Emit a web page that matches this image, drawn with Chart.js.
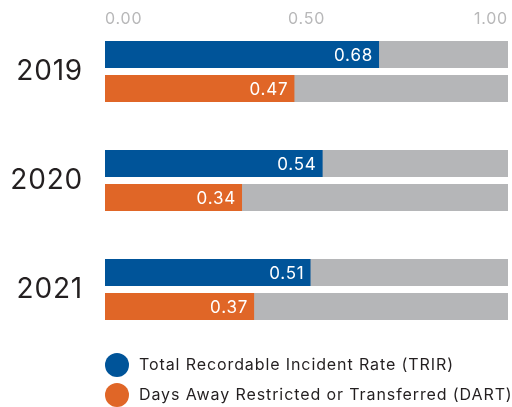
<!DOCTYPE html>
<html>
<head>
<meta charset="utf-8">
<script src="https://cdn.jsdelivr.net/npm/chart.js@4.4.1/dist/chart.umd.min.js"></script>
<style>
    html, body { margin: 0; padding: 0; background: #fff; }
    #wrap { position: relative; width: 512px; height: 407px; }
</style>
</head>
<body>
<div id="wrap"><canvas id="safetyChart"></canvas></div>
<script>
// DATA
const years = ['2019', '2020', '2021']
const trirValues = [0.68, 0.54, 0.51]
const dartValues = [0.47, 0.34, 0.37]
const axisTicks = [0, 0.5, 1]
const axisMax = 1
const seriesNames = [
    'Total Recordable Incident Rate (TRIR)',
    'Days Away Restricted or Transferred (DART)'
]

const BLUE = '#005499'
const ORANGE = '#e06627'
const TRACK = '#b5b6b8'
const FONT = 'Inter, "Open Sans", sans-serif'

/* ==============================
       SPASI HURUF (TRACKING)
   ============================== */
const tracking = {
    id: 'tracking',
    beforeDraw(chart) {
        chart.ctx.letterSpacing = '0.8px'
    }
}

/* ==============================
       LABEL NILAI DI UJUNG BAR
   ============================== */
const valueLabels = {
    id: 'valueLabels',
    afterDatasetsDraw(chart) {
        const ctx = chart.ctx
        ctx.save()
        ctx.font = '17px ' + FONT
        ctx.letterSpacing = '0.8px'
        ctx.fillStyle = '#ffffff'
        ctx.textAlign = 'right'
        ctx.textBaseline = 'middle'
        chart.data.datasets.forEach((ds, i) => {
            if (!ds.showValue) return
            chart.getDatasetMeta(i).data.forEach((bar, j) => {
                ctx.fillText(ds.data[j].toFixed(2), bar.x - 6, bar.y + 1)
            })
        })
        ctx.restore()
    }
}

/* ==============================
       LEGEND (BULAT, DI BAWAH)
   ============================== */
const dotLegend = {
    id: 'dotLegend',
    afterDraw(chart) {
        const ctx = chart.ctx
        const area = chart.chartArea
        const items = chart.data.datasets.filter((ds) => ds.showValue)
        ctx.save()
        ctx.font = '16px ' + FONT
        ctx.letterSpacing = '0.9px'
        ctx.textBaseline = 'middle'
        items.forEach((ds, i) => {
            const y = area.bottom + 75.5 + i * 30
            ctx.fillStyle = ds.backgroundColor
            ctx.beginPath()
            ctx.arc(area.left + 12, y, 12, 0, Math.PI * 2)
            ctx.fill()
            ctx.fillStyle = '#231f20'
            ctx.fillText(ds.label, area.left + 34, y)
        })
        ctx.restore()
    }
}

const track = years.map(() => axisMax)

new Chart(document.getElementById('safetyChart'), {
    type: 'bar',
    data: {
        labels: years,
        datasets: [
            { label: seriesNames[0], data: trirValues, backgroundColor: BLUE, stack: 'trir', order: 0, showValue: true },
            { label: seriesNames[1], data: dartValues, backgroundColor: ORANGE, stack: 'dart', order: 0, showValue: true },
            { label: 'track-trir', data: track, backgroundColor: TRACK, stack: 'trir', order: 1 },
            { label: 'track-dart', data: track, backgroundColor: TRACK, stack: 'dart', order: 1 }
        ]
    },
    options: {
        indexAxis: 'y',
        responsive: true,
        maintainAspectRatio: false,
        animation: false,
        layout: { padding: { top: 0, right: 4, bottom: 117.5, left: 0 } },
        datasets: {
            bar: {
                clip: false,
                borderWidth: 0,
                categoryPercentage: 68 / 109,
                barPercentage: 27 / 34
            }
        },
        plugins: {
            legend: { display: false },
            tooltip: { enabled: false }
        },
        scales: {
            x: {
                position: 'top',
                stacked: false,
                min: 0,
                max: axisMax,
                grid: { display: false, drawTicks: false },
                border: { display: false },
                afterBuildTicks: (scale) => {
                    scale.ticks = axisTicks.map((v) => ({ value: v }))
                },
                afterFit: (scale) => {
                    scale.height = 71.5
                    scale.paddingLeft = 0
                    scale.paddingRight = 0
                },
                ticks: {
                    align: 'inner',
                    padding: 43,
                    color: '#b8b8b9',
                    font: { family: FONT, size: 16 },
                    callback: (value) => Number(value).toFixed(2)
                }
            },
            y: {
                offset: false,
                grid: { display: false, drawTicks: false },
                border: { display: false },
                afterFit: (scale) => {
                    scale.width = 105
                },
                ticks: {
                    padding: 22,
                    color: '#231f20',
                    font: { family: FONT, size: 28 }
                }
            }
        }
    },
    plugins: [tracking, valueLabels, dotLegend]
})
</script>
</body>
</html>
